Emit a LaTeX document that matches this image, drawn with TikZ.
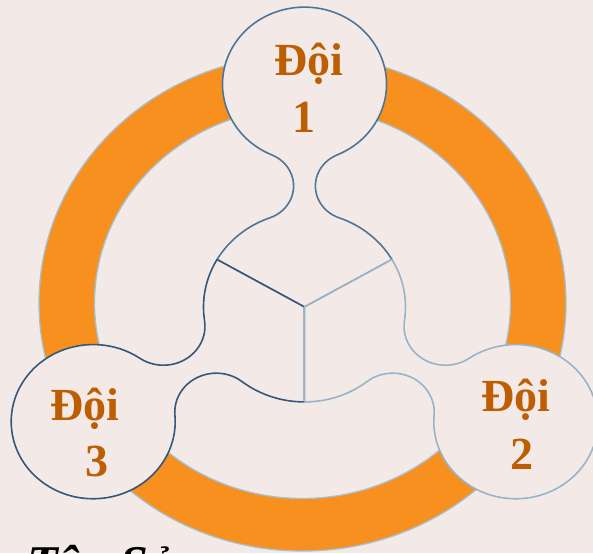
\documentclass[tikz,border=0pt]{standalone}
\usepackage{fontspec}
\setmainfont{Liberation Serif}
\definecolor{bgc}{HTML}{F3EAE8}
\definecolor{ringc}{HTML}{F7901E}
\definecolor{ringline}{HTML}{A7BFD0}
\definecolor{darkc}{HTML}{34577A}
\definecolor{medc}{HTML}{4F7596}
\definecolor{lightc}{HTML}{98B4C8}
\definecolor{txtc}{HTML}{BE5E02}
\tikzset{
  lobe/.style={fill=bgc, line width=1.6pt, line join=round},
  lbl/.style={anchor=base, inner sep=0pt, text=txtc, font=\bfseries\fontsize{46}{55}\selectfont},
  ringedge/.style={draw=ringline, line width=1.3pt}
}
\begin{document}
\begin{tikzpicture}[x=1pt,y=1pt]
\useasboundingbox (0,0) rectangle (593,553);
\clip (0,0) rectangle (593,553);
\fill[bgc] (0,0) rectangle (593,553);
% orange ring
\fill[ringc, even odd rule] (302.5,250) ellipse[x radius=263.5, y radius=248]
  (302.5,250) ellipse[x radius=208, y radius=195.5];
\draw[ringedge] (302.5,250) ellipse[x radius=263.5, y radius=248];
\draw[ringedge] (302.5,250) ellipse[x radius=208, y radius=195.5];
% three-lobed shape
\begin{scope}[shift={(304.5,246)}, yscale=0.94]
  % top part (Doi 1)
  \path[lobe, draw=medc] (30:101) arc[start angle=30, end angle=69.98, radius=101]
    arc[start angle=249.98, end angle=113.42, radius=36]
    arc[start angle=293.42, end angle=606.58, radius=82]
    arc[start angle=66.58, end angle=-69.98, radius=36]
    arc[start angle=110.02, end angle=150, radius=101]
    -- (0,0) -- cycle;
  % bottom-left part (Doi 3)
  \path[lobe, draw=darkc] (150:101) arc[start angle=150, end angle=188.25, radius=101]
    arc[start angle=368.25, end angle=235.31, radius=41.5]
    arc[start angle=55.31, end angle=364.69, radius=82]
    arc[start angle=184.69, end angle=51.75, radius=41.5]
    arc[start angle=231.75, end angle=270, radius=101]
    -- (0,0) -- cycle;
  % bottom-right part (Doi 2)
  \path[lobe, draw=lightc] (270:101) arc[start angle=270, end angle=308.25, radius=101]
    arc[start angle=488.25, end angle=355.31, radius=41.5]
    arc[start angle=175.31, end angle=484.69, radius=82]
    arc[start angle=304.69, end angle=171.75, radius=41.5]
    arc[start angle=351.75, end angle=390, radius=101]
    -- (0,0) -- cycle;
\end{scope}
% labels
\node[lbl] (t1a) at (309,477) {Đội};
\node[lbl] (t1b) at (304,420) {1};
\node[lbl] (t2a) at (516,141) {Đội};
\node[lbl] (t2b) at (522,83) {2};
\node[lbl] (t3a) at (85,132) {Đội};
\node[lbl] (t3b) at (97,76) {3};
% bottom title (cut off by the page edge, as in the reference)
\node[anchor=base west, inner sep=0pt, font=\bfseries\itshape\fontsize{50}{60}\selectfont] (title) at (27,-27) {Tên Sản};
\end{tikzpicture}
\end{document}
